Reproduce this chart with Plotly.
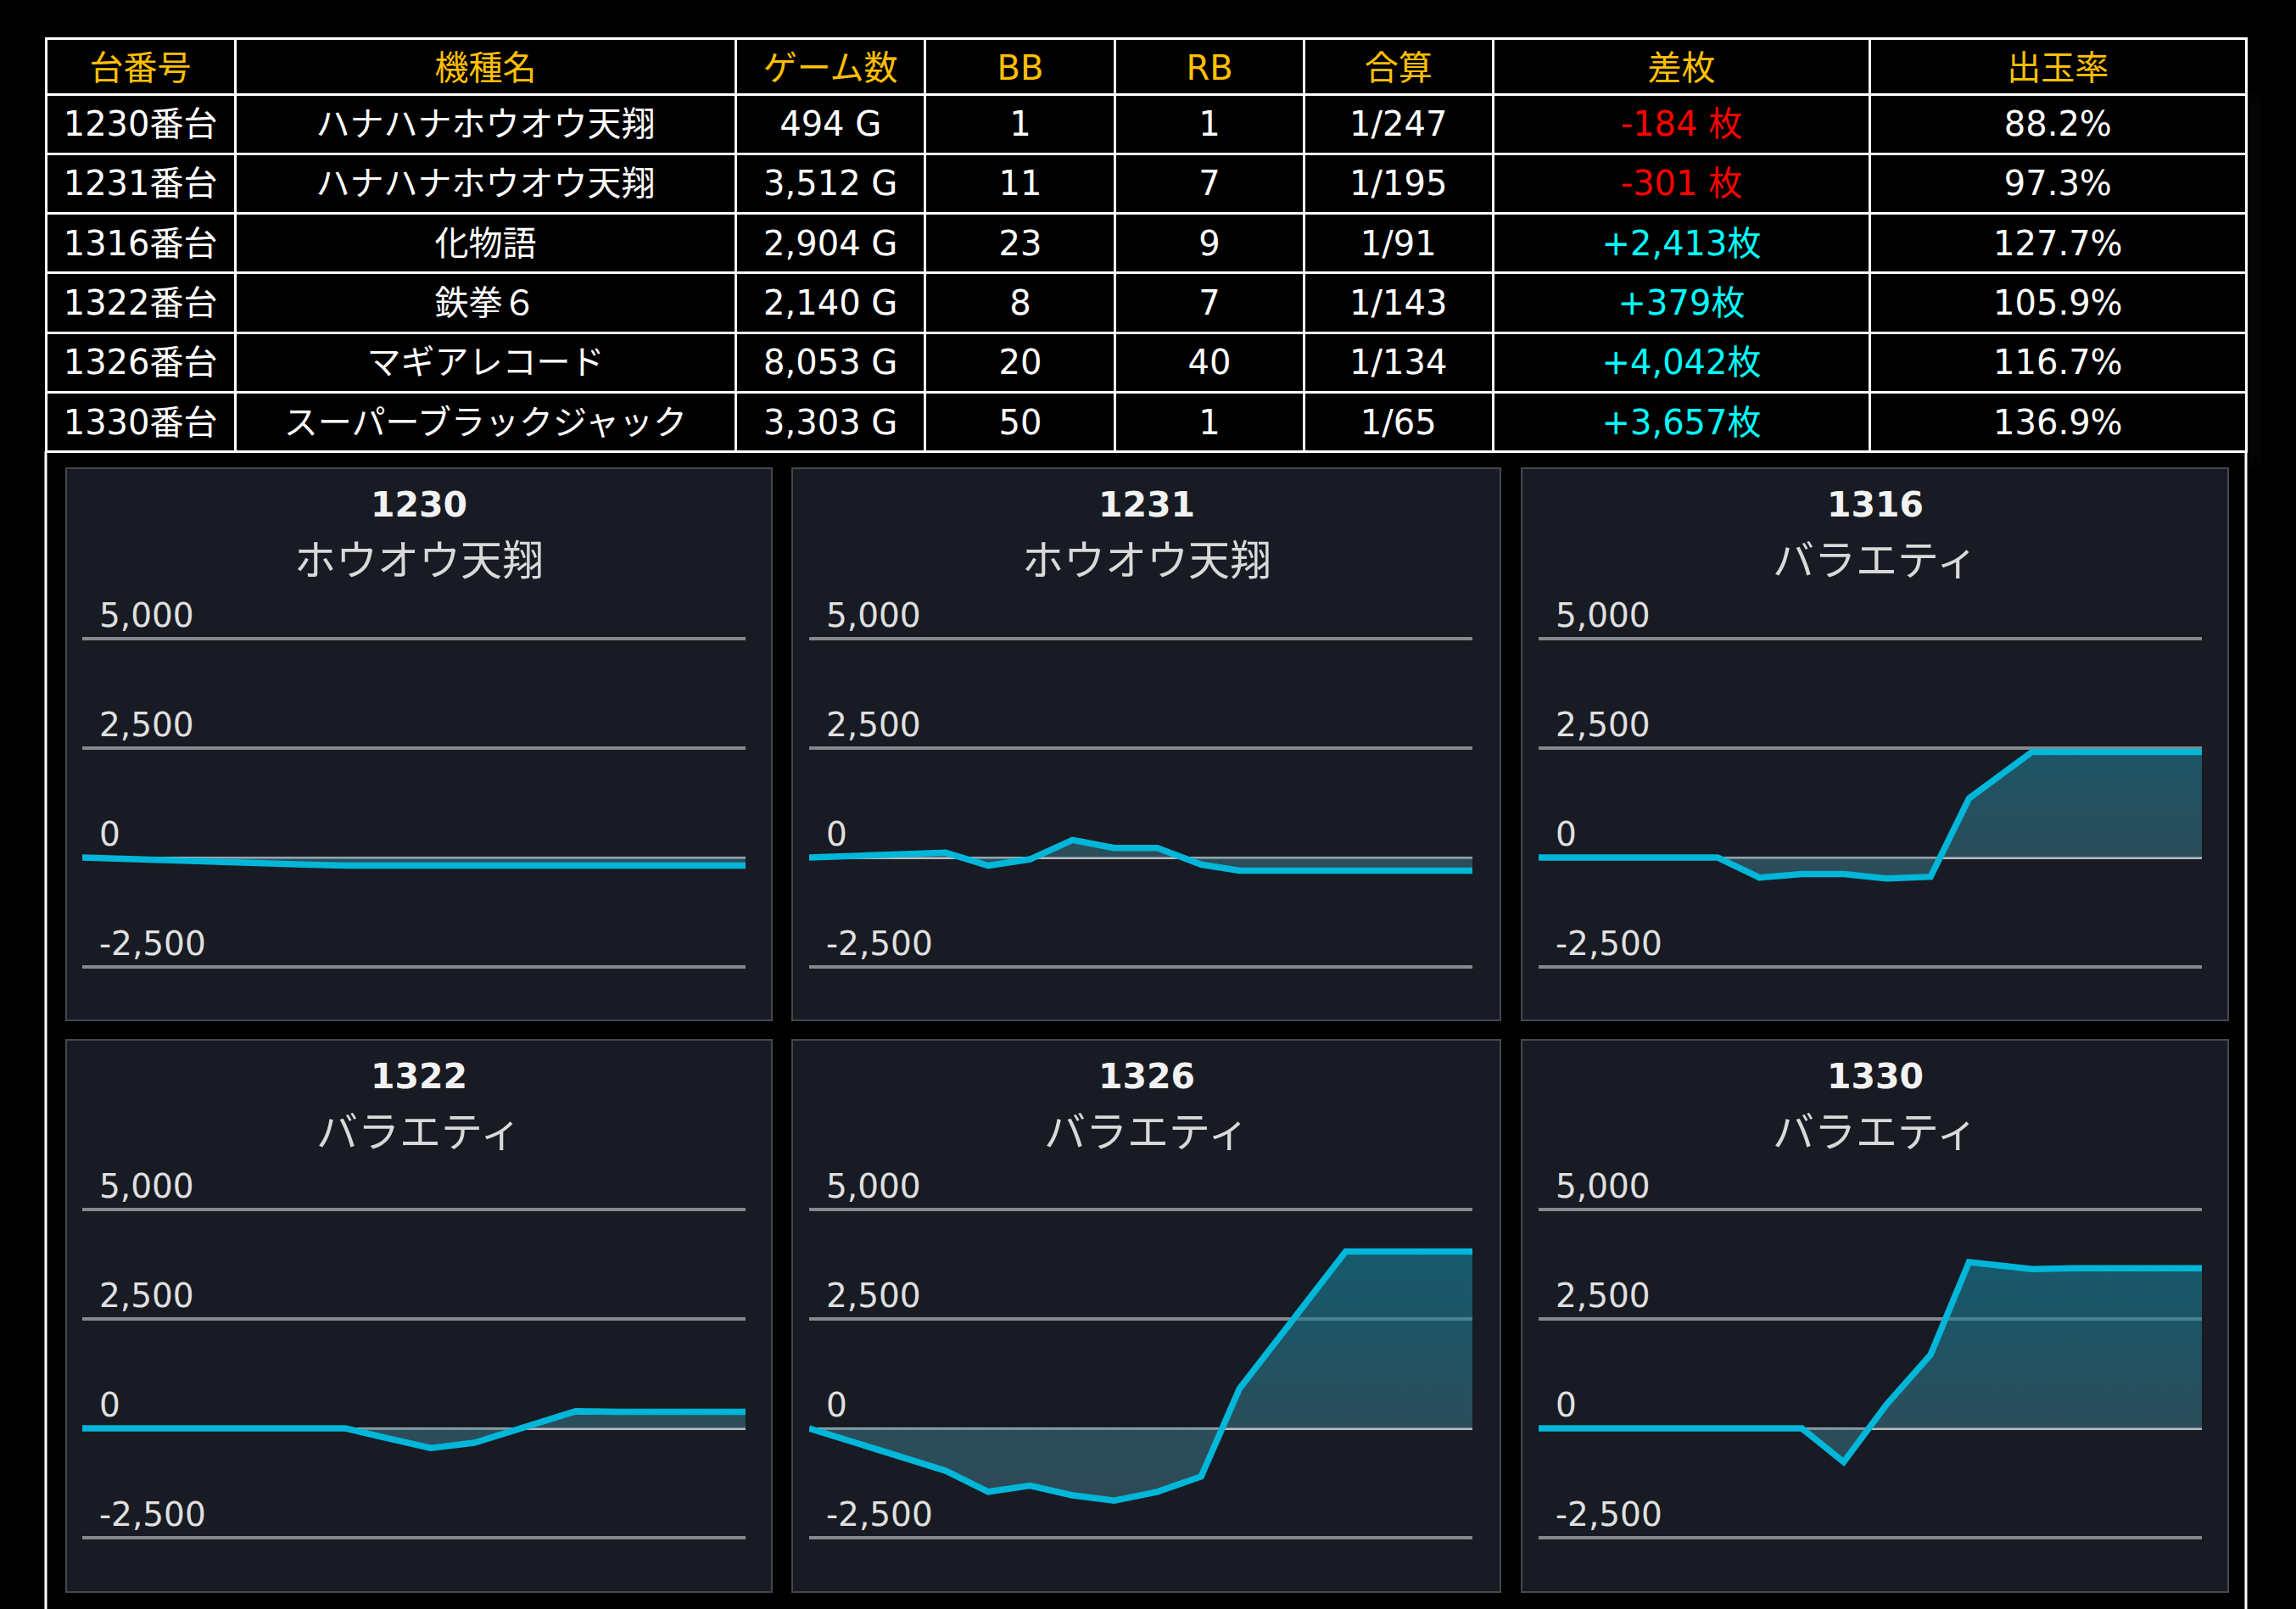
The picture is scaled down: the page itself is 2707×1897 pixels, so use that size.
import plotly.graph_objects as go

W, H = 2707, 1897

# ---- table data ----
header_labels = ["台番号", "機種名", "ゲーム数", "BB", "RB", "合算", "差枚", "出玉率"]
machine_no = ["1230番台", "1231番台", "1316番台", "1322番台", "1326番台", "1330番台"]
machine_name = ["ハナハナホウオウ天翔", "ハナハナホウオウ天翔", "化物語", "鉄拳６",
                "マギアレコード", "スーパーブラックジャック"]
games = [494, 3512, 2904, 2140, 8053, 3303]
bb_count = [1, 11, 23, 8, 20, 50]
rb_count = [1, 7, 9, 7, 40, 1]
combined = ["1/247", "1/195", "1/91", "1/143", "1/134", "1/65"]
diff_medals = [-184, -301, 2413, 379, 4042, 3657]
payout = ["88.2%", "97.3%", "127.7%", "105.9%", "116.7%", "136.9%"]

# ---- slump graph data (x = share of the business day) ----
chart_ids = ["1230", "1231", "1316", "1322", "1326", "1330"]
chart_types = ["ホウオウ天翔", "ホウオウ天翔", "バラエティ", "バラエティ", "バラエティ", "バラエティ"]
progress = [0, 0.206, 0.270, 0.333, 0.397, 0.460, 0.525, 0.591, 0.649, 0.744, 0.809, 1.0]
slump_1230 = [0, -120, -140, -160, -184, -184, -184, -184, -184, -184, -184, -184]
slump_1231 = [0, 110, -185, -40, 400, 220, 220, -160, -301, -301, -301, -301]
slump_1316 = [0, 0, 0, -460, -380, -380, -480, -440, 1350, 2413, 2413, 2413]
slump_1322 = [0, 0, 0, 0, 0, -225, -450, -330, -60, 390, 379, 379]
slump_1326 = [0, -970, -1450, -1310, -1530, -1650, -1450, -1100, 910, 2790, 4042, 4042]
slump_1330 = [0, 0, 0, 0, 0, -770, 550, 1680, 3800, 3640, 3657, 3657]
slumps = [slump_1230, slump_1231, slump_1316, slump_1322, slump_1326, slump_1330]

y_ticks = [-2500, 0, 2500, 5000]
y_tick_labels = ["-2,500", "0", "2,500", "5,000"]

TABLE_FONT = "DejaVu Sans, Noto Sans CJK JP, sans-serif"
CJK_FONT = "Noto Sans CJK JP, sans-serif"

fig = go.Figure()

# ---- table ----
diff_text = [f"{d:,} 枚" if d < 0 else f"+{d:,}枚" for d in diff_medals]
diff_color = ["#ff0000" if d < 0 else "#00ffff" for d in diff_medals]
white = ["white"] * len(machine_no)
col_widths = [223, 590, 223, 224, 222, 223, 444, 443]
cell_values = [machine_no, machine_name, [f"{g:,} G" for g in games],
               bb_count, rb_count, combined, diff_text, payout]
blank = [[""] * len(machine_no) for _ in cell_values]

# grid and black fill
fig.add_trace(go.Table(
    domain=dict(x=[54 / W, 2648 / W], y=[1 - 540 / H, 1 - 45 / H]),
    columnwidth=col_widths,
    header=dict(values=[""] * len(header_labels), fill_color="black",
                line=dict(color="white", width=3), height=66),
    cells=dict(values=blank, fill_color="black",
               line=dict(color="white", width=3), height=70.3),
))
# text layer, nudged down so it sits mid-row
fig.add_trace(go.Table(
    domain=dict(x=[54 / W, 2648 / W], y=[1 - 551 / H, 1 - 56 / H]),
    columnwidth=col_widths,
    header=dict(
        values=header_labels,
        fill_color="rgba(0,0,0,0)",
        line=dict(color="rgba(0,0,0,0)", width=3),
        font=dict(color="#ffc000", size=40, family=TABLE_FONT),
        align="center",
        height=66,
    ),
    cells=dict(
        values=cell_values,
        fill_color="rgba(0,0,0,0)",
        line=dict(color="rgba(0,0,0,0)", width=3),
        font=dict(color=[white, white, white, white, white, white, diff_color, white],
                  size=40, family=TABLE_FONT),
        align="center",
        height=70.3,
    ),
))

# ---- panels ----
panel_x = [(78, 910), (934, 1769), (1794, 2627)]
panel_y = [(552, 1203), (1226, 1877)]
plot_x = [(97, 879), (954, 1736), (1814, 2596)]
grid_y = [(753, 1140), (1426, 1813)]  # pixel rows of 5000 and -2500

y_lo, y_hi = -2700, 6000
px_per_unit = (grid_y[0][1] - grid_y[0][0]) / 7500

shapes = []
annotations = []
# outer frame continuing below the table
for xv in (54, 2648):
    shapes.append(dict(type="line", xref="paper", yref="paper",
                       x0=xv / W, x1=xv / W, y0=1 - 532 / H, y1=0,
                       line=dict(color="white", width=3), layer="below"))

for i, (cid, ctype, ys) in enumerate(zip(chart_ids, chart_types, slumps)):
    r, c = divmod(i, 3)
    n = i + 1
    px0, px1 = panel_x[c]
    py0, py1 = panel_y[r]
    shapes.append(dict(type="rect", xref="paper", yref="paper",
                       x0=px0 / W, x1=px1 / W, y0=1 - py1 / H, y1=1 - py0 / H,
                       fillcolor="#181b23", line=dict(color="#44474e", width=2),
                       layer="below"))
    cx = (px0 + px1) / 2 / W
    annotations.append(dict(x=cx, y=1 - (py0 + 43) / H, xref="paper", yref="paper",
                            text=f"<b>{cid}</b>", showarrow=False,
                            font=dict(size=41, color="#f2f2f2", family="DejaVu Sans"),
                            xanchor="center", yanchor="middle"))
    annotations.append(dict(x=cx, y=1 - (py0 + 104) / H, xref="paper", yref="paper",
                            text=ctype, showarrow=False,
                            font=dict(size=49, color="#d9d9d9", family=CJK_FONT),
                            xanchor="center", yanchor="middle"))

    g_top, g_bot = grid_y[r]
    d_top = g_top - (y_hi - 5000) * px_per_unit
    d_bot = g_bot + (-2500 - y_lo) * px_per_unit
    fig.add_trace(go.Scatter(
        x=progress, y=ys, mode="lines",
        line=dict(color="#00b6d9", width=7.5),
        fill="tozeroy",
        fillgradient=dict(type="vertical", start=-2500, stop=5000,
                          colorscale=[[0, "rgba(59,105,118,0.6)"],
                                      [0.333, "rgba(56,110,127,0.6)"],
                                      [0.667, "rgba(31,124,147,0.6)"],
                                      [1, "rgba(12,136,162,0.6)"]]),
        xaxis=f"x{n}", yaxis=f"y{n}", showlegend=False, hoverinfo="skip",
    ))
    fig.update_layout(**{
        f"xaxis{n}": dict(domain=[plot_x[c][0] / W, plot_x[c][1] / W], range=[0, 1],
                          visible=False, anchor=f"y{n}"),
        f"yaxis{n}": dict(domain=[1 - d_bot / H, 1 - d_top / H], range=[y_lo, y_hi],
                          anchor=f"x{n}", tickvals=y_ticks, ticktext=y_tick_labels,
                          showgrid=True, gridcolor="#86888d", gridwidth=4,
                          zeroline=True, zerolinecolor="#b9bbbf", zerolinewidth=2.5,
                          showline=False, ticks="",
                          ticklabelposition="inside", ticklabelshift=-28,
                          ticklabelstandoff=17,
                          tickfont=dict(size=39, color="#e0e0e0", family="DejaVu Sans")),
    })

fig.update_layout(
    width=W, height=H,
    margin=dict(l=0, r=0, t=0, b=0),
    paper_bgcolor="black",
    plot_bgcolor="rgba(0,0,0,0)",
    shapes=shapes,
    annotations=annotations,
    showlegend=False,
)

fig.write_html("out.html", config={"displayModeBar": False},
               post_script="document.body.style.margin='0px';")
